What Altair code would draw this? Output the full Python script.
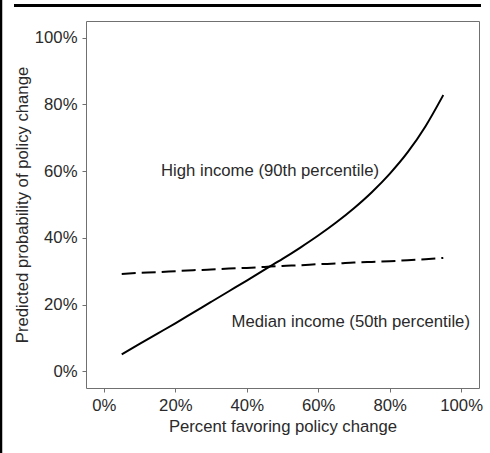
import altair as alt
import pandas as pd

# Percent of the public favoring a policy change
favor = [0.05, 0.10, 0.15, 0.20, 0.25, 0.30, 0.35, 0.40, 0.45, 0.50,
         0.55, 0.60, 0.65, 0.70, 0.75, 0.80, 0.85, 0.90, 0.95]
# Predicted probability of policy change, high-income (90th percentile)
high_income = [0.051, 0.082, 0.113, 0.144, 0.176, 0.208, 0.240, 0.272, 0.305, 0.337,
               0.371, 0.407, 0.446, 0.489, 0.537, 0.592, 0.656, 0.734, 0.828]
# Predicted probability of policy change, median-income (50th percentile)
median_income = [0.292, 0.295, 0.297, 0.300, 0.303, 0.305, 0.308, 0.310, 0.313, 0.316,
                 0.318, 0.321, 0.323, 0.326, 0.328, 0.330, 0.333, 0.336, 0.340]

label_text = ["High income (90th percentile)", "Median income (50th percentile)"]
label_x = [0.465, 0.691]
label_y = [0.600, 0.148]

FONT = "Liberation Sans"
FS = 16.7
TEXT = "#2a2a2a"
GRAY = "#707070"

curves = pd.DataFrame({"favor": favor, "high": high_income, "median": median_income})
labels = pd.DataFrame({"text": label_text, "x": label_x, "y": label_y})

pct_axis = dict(
    format=".0%", values=[0, 0.2, 0.4, 0.6, 0.8, 1.0], grid=False, domain=False,
    tickColor=GRAY, tickSize=4, labelFont=FONT, labelFontSize=FS, labelColor=TEXT,
    titleFont=FONT, titleFontSize=FS, titleColor=TEXT, titleFontWeight="normal",
)

x_scale = alt.Scale(domain=[-0.05, 1.05], nice=False, zero=False)
y_scale = alt.Scale(domain=[-0.05, 1.05], nice=False, zero=False)

x_enc = alt.X("favor:Q", scale=x_scale,
              axis=alt.Axis(title="Percent favoring policy change", labelPadding=5,
                            titlePadding=5, **pct_axis))
base = alt.Chart(curves)

high_line = base.mark_line(color="black", strokeWidth=2, interpolate="monotone").encode(
    x=x_enc,
    y=alt.Y("high:Q", scale=y_scale,
            axis=alt.Axis(title="Predicted probability of policy change",
                          labelPadding=5, titlePadding=3, **pct_axis)),
)

median_line = base.mark_line(color="black", strokeWidth=2, strokeDash=[14, 6],
                             interpolate="monotone").encode(
    x=alt.X("favor:Q", scale=x_scale),
    y=alt.Y("median:Q", scale=y_scale),
)

annotations = alt.Chart(labels).mark_text(
    font=FONT, fontSize=FS, color=TEXT, align="center", baseline="middle"
).encode(
    x=alt.X("x:Q", scale=x_scale),
    y=alt.Y("y:Q", scale=y_scale),
    text="text:N",
)

# Black page frame along the left and top edges
frame_src = pd.DataFrame({"k": [0]})
left_edge = alt.Chart(frame_src).mark_rule(color="black", strokeWidth=2.5).encode(
    x=alt.value(-85), y=alt.value(-21), y2=alt.value(432)
)
top_edge = alt.Chart(frame_src).mark_rule(color="black", strokeWidth=3).encode(
    x=alt.value(-72), x2=alt.value(395), y=alt.value(-15.6)
)

chart = alt.layer(high_line, median_line, annotations, left_edge, top_edge).properties(
    width=393, height=367,
    padding={"left": 86, "top": 21, "right": 11, "bottom": 65},
    autosize=alt.AutoSizeParams(type="none"),
    background="white",
).configure_view(stroke=GRAY, strokeWidth=1)

chart.save("out.html", embed_options={"renderer": "svg", "actions": False})
